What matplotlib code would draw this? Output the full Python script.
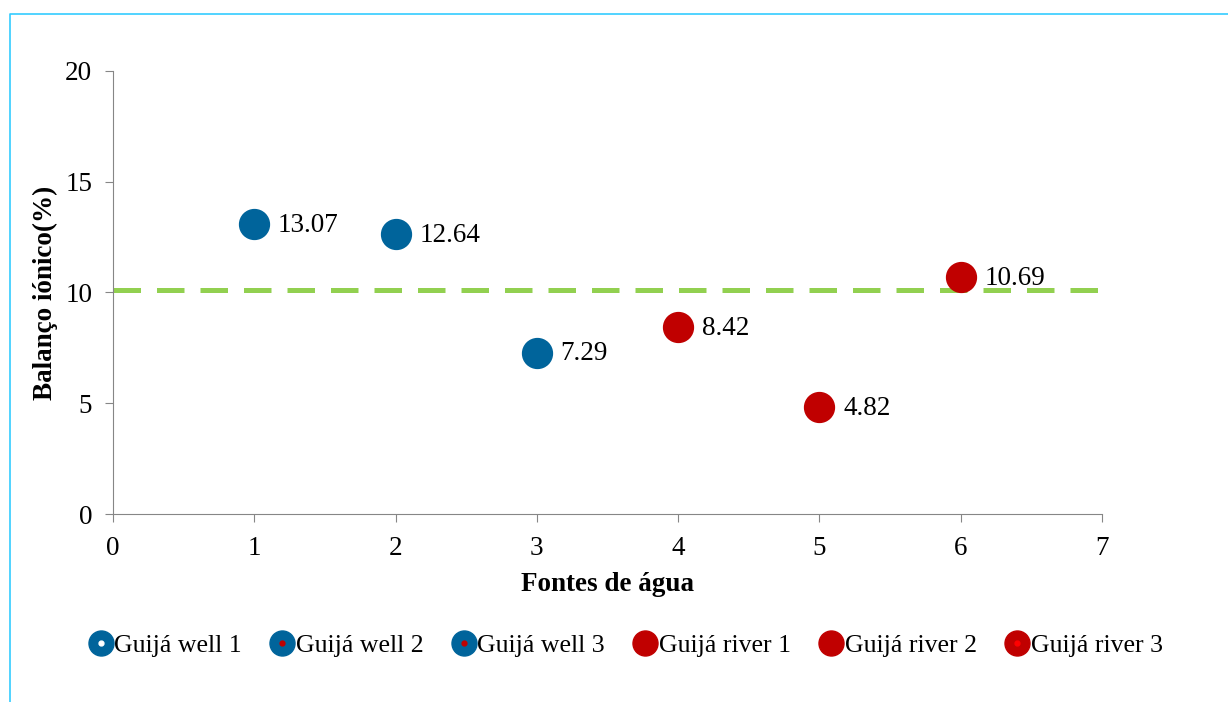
import matplotlib
matplotlib.use("Agg")
import matplotlib.pyplot as plt
from matplotlib.lines import Line2D
from matplotlib.legend_handler import HandlerTuple

plt.rcParams['font.family'] = ['Liberation Serif', 'DejaVu Serif']

# dados
sources = ['Guijá well 1', 'Guijá well 2', 'Guijá well 3',
           'Guijá river 1', 'Guijá river 2', 'Guijá river 3']
x_vals = [1, 2, 3, 4, 5, 6]
balance = [13.07, 12.64, 7.29, 8.42, 4.82, 10.69]
limit = 10.1
colors = ['#00649B', '#00649B', '#00649B', '#C00000', '#C00000', '#C00000']
dot_colors = ['white', '#C00000', '#C00000', None, None, '#FF0000']

fs = 19.5

fig = plt.figure(figsize=(12.28, 7.02), dpi=100)
ax = fig.add_axes([0.092, 0.2678, 0.8054, 0.6311])

# linha de referencia
ax.axhline(limit, color='#92D050', lw=3.6, dashes=(5.5, 3.2), zorder=1)

handles = []
for xv, yv, c, d, name in zip(x_vals, balance, colors, dot_colors, sources):
    ax.plot(xv, yv, 'o', ms=21.5, color=c, mec=c, zorder=3)
    ax.annotate(f'{yv:.2f}', (xv, yv), xytext=(17, -1), textcoords='offset points',
                va='center', ha='left', fontsize=fs)
    big = Line2D([], [], marker='o', ls='', ms=18, color=c, mec=c)
    if d is not None:
        small = Line2D([], [], marker='o', ls='', ms=3.5, color=d, mec=d)
        handles.append((big, small))
    else:
        handles.append(big)

ax.set_xlim(0, 7)
ax.set_ylim(0, 20)
ax.set_xticks(range(0, 8))
ax.set_yticks(range(0, 21, 5))
ax.tick_params(labelsize=fs, length=6, color='#868686', direction='out')
ax.tick_params(axis='y', pad=9)
ax.tick_params(axis='x', pad=10)
for s in ['top', 'right']:
    ax.spines[s].set_visible(False)
for s in ['left', 'bottom']:
    ax.spines[s].set_color('#868686')

ax.set_xlabel('Fontes de água', fontsize=fs, fontweight='bold', labelpad=8)
ax.set_ylabel('Balanço iónico(%)', fontsize=fs, fontweight='bold', labelpad=5)

fig.legend(handles, sources, loc='center', bbox_to_anchor=(0.509, 0.081), ncol=6,
           frameon=False, fontsize=18.5, handlelength=1.05, handletextpad=0.0,
           columnspacing=1.05, handler_map={tuple: HandlerTuple(ndivide=1, pad=0)})

# moldura
fig.add_artist(Line2D([0.0081, 0.0081, 1.0], [0.0, 0.980, 0.980],
                      transform=fig.transFigure, color='#33CCFF', lw=1.2))

fig.savefig('out.png', dpi=100)
